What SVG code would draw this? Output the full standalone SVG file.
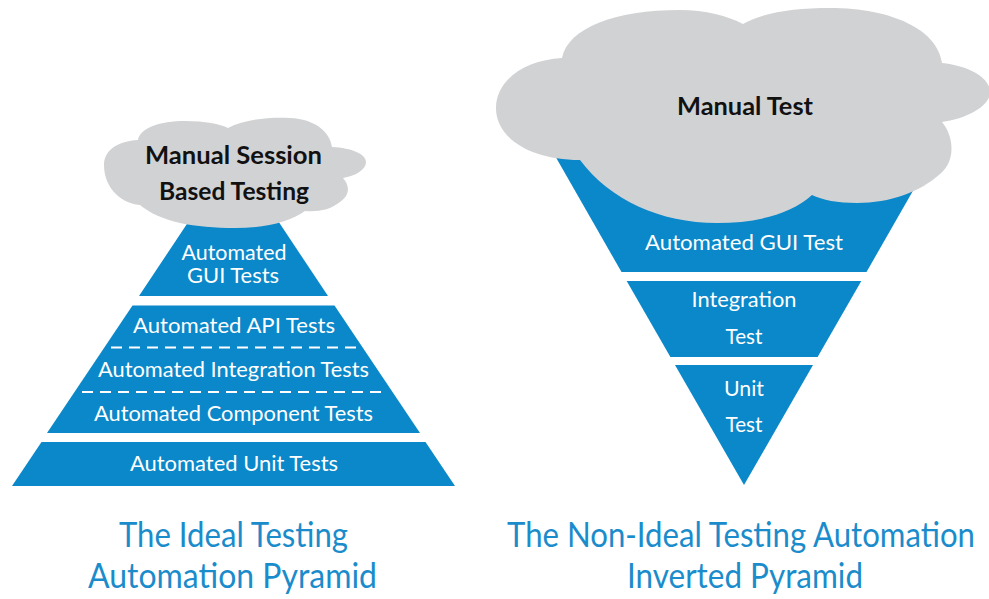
<svg xmlns="http://www.w3.org/2000/svg" width="989" height="599" viewBox="0 0 989 599">
<style>
.band{fill:#0a88c9}
.cloud{fill:#d1d2d4}
.wt{fill:#ffffff;font-family:Lato,"Noto Sans",sans-serif;font-size:21px;text-anchor:middle}
.bt{fill:#111111;font-family:Lato,"Noto Sans",sans-serif;font-size:25px;font-weight:bold;text-anchor:middle}
.title{fill:#1b8ccb;font-family:Lato,"Noto Sans",sans-serif;font-size:34px;text-anchor:middle}
.dash{stroke:#ffffff;stroke-width:2;stroke-dasharray:11 7;fill:none}
</style>
<rect width="989" height="599" fill="#ffffff"/>
<g id="left-pyramid">
  <g id="gui-tests">
    <polygon class="band" points="233.5,154 328,296 139,296"/>
    <text class="wt" x="234" y="260" textLength="105" lengthAdjust="spacingAndGlyphs">Automated</text>
    <text class="wt" x="233" y="283" textLength="92" lengthAdjust="spacingAndGlyphs">GUI Tests</text>
  </g>
  <g id="middle-tests">
    <polygon class="band" points="132.5,305.5 334.5,305.5 420,433 47,433"/>
    <line class="dash" x1="111" y1="347.5" x2="358" y2="347.5"/>
    <line class="dash" x1="82" y1="392" x2="388" y2="392"/>
    <text class="wt" x="234" y="333" textLength="202" lengthAdjust="spacingAndGlyphs">Automated API Tests</text>
    <text class="wt" x="233.5" y="377" textLength="271" lengthAdjust="spacingAndGlyphs">Automated Integration Tests</text>
    <text class="wt" x="233.5" y="421" textLength="279" lengthAdjust="spacingAndGlyphs">Automated Component Tests</text>
  </g>
  <g id="unit-tests">
    <polygon class="band" points="41.5,442 425.5,442 455,486 12,486"/>
    <text class="wt" x="234" y="471" textLength="208" lengthAdjust="spacingAndGlyphs">Automated Unit Tests</text>
  </g>
  <g id="manual-session">
    <path class="cloud" d="M 140 205 C 118 203 104 185 104 165 C 104 150 118 141 138 140 C 140 128 160 121 185 121 C 205 121 220 124 228 128 C 245 119 270 117 290 118 C 315 119 330 132 332 147 C 352 148 366 154 366 162 C 366 170 355 176 343 178 C 350 186 350 195 340 202 C 330 210 318 212 305 211 C 290 222 265 228 235 228 C 195 228 160 222 140 205 Z"/>
    <text class="bt" x="233.5" y="164" textLength="177" lengthAdjust="spacingAndGlyphs">Manual Session</text>
    <text class="bt" x="234" y="199.5" textLength="150" lengthAdjust="spacingAndGlyphs">Based Testing</text>
  </g>
  <g id="left-title">
    <text class="title" x="233.5" y="547" textLength="229" lengthAdjust="spacingAndGlyphs">The Ideal Testing</text>
    <text class="title" x="232.5" y="588" textLength="289" lengthAdjust="spacingAndGlyphs">Automation Pyramid</text>
  </g>
</g>
<g id="right-pyramid">
  <g id="gui-test">
    <polygon class="band" points="546,140 942,140 866.5,272 621.5,272"/>
    <text class="wt" x="744" y="250" textLength="198" lengthAdjust="spacingAndGlyphs">Automated GUI Test</text>
  </g>
  <g id="integration-test">
    <polygon class="band" points="626.7,281 861.3,281 817.6,357 670.4,357"/>
    <text class="wt" x="744" y="306.5" textLength="105" lengthAdjust="spacingAndGlyphs">Integration</text>
    <text class="wt" x="744" y="344" textLength="37" lengthAdjust="spacingAndGlyphs">Test</text>
  </g>
  <g id="unit-test">
    <polygon class="band" points="675,365 813,365 744,485"/>
    <text class="wt" x="744" y="396" textLength="40" lengthAdjust="spacingAndGlyphs">Unit</text>
    <text class="wt" x="744" y="432" textLength="37" lengthAdjust="spacingAndGlyphs">Test</text>
  </g>
  <g id="manual-test">
    <path class="cloud" d="M 580 160 C 530 160 496 138 496 108 C 496 80 525 60 562 58 C 568 28 615 10 680 10 C 705 10 728 16 743 24 C 765 12 795 8 830 8 C 892 8 938 30 942 63 C 970 66 990 78 990 92 C 990 106 968 118 942 122 C 955 138 955 162 940 174 C 920 192 890 203 857 203 C 838 203 822 200 812 195 C 790 215 755 223 717 223 C 660 223 610 200 580 160 Z"/>
    <text class="bt" x="745" y="115" textLength="136" lengthAdjust="spacingAndGlyphs">Manual Test</text>
  </g>
  <g id="right-title">
    <text class="title" x="741" y="547" font-size="32" textLength="468" lengthAdjust="spacingAndGlyphs">The Non-Ideal Testing Automation</text>
    <text class="title" x="745" y="588" textLength="236" lengthAdjust="spacingAndGlyphs">Inverted Pyramid</text>
  </g>
</g>
<g id="connectors"/>
</svg>
